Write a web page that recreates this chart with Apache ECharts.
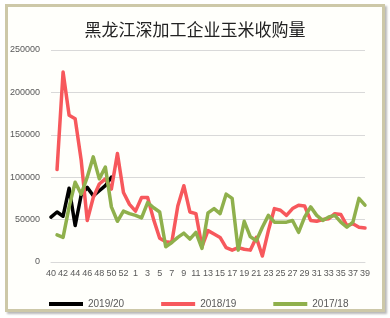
<!DOCTYPE html>
<html><head><meta charset="utf-8">
<script src="https://cdn.jsdelivr.net/npm/echarts@6/dist/echarts.min.js"></script>
<style>
html,body{margin:0;padding:0;background:#ffffff;}
#frame{position:absolute;left:5px;top:4px;width:374px;height:302px;border:3px solid #cdc8a8;background:#fffffb;box-shadow:2px 2px 2px #b9b9b9;}
#chart{position:absolute;left:0;top:0;width:390px;height:318px;}
</style></head>
<body>
<div id="frame"></div>
<div id="chart"></div>
<script>
const weeks = ['40','41','42','43','44','45','46','47','48','49','50','51','52','53',
  '1','2','3','4','5','6','7','8','9','10','11','12','13','14','15','16','17','18','19','20',
  '21','22','23','24','25','26','27','28','29','30','31','32','33','34','35','36','37','38','39'];
const s2019 = [53000,59000,54000,87000,43000,79000,88000,78000,84000,90000,100000];
const s2018 = [null,109000,224000,173000,169000,120000,49000,76000,92000,98000,86000,128000,82000,68000,
  60000,76000,76000,50000,28000,24000,23000,66000,90000,59000,57000,18000,37000,33000,29000,17000,
  14000,17000,15000,14000,29000,7000,37000,63000,61000,55000,63000,67000,66000,49000,48000,50000,
  51000,57000,56000,43000,45000,41000,40000];
const s2017 = [null,32000,29000,65000,94000,80000,100000,124000,98000,112000,65000,48000,60000,57000,
  55000,52000,70000,64000,59000,18000,23000,29000,34000,27000,35000,16000,58000,63000,57000,80000,
  75000,14000,48000,30000,25000,41000,55000,47000,47000,47000,49000,35000,53000,65000,55000,49000,
  53000,55000,47000,41000,47000,75000,67000];
const names = ['2019/20','2018/19','2017/18'];
const colors = ['#000000','#f7585c','#8fb04c'];

const chart = echarts.init(document.getElementById('chart'), null, {renderer:'canvas'});
const lbl = {color:'#595959', fontSize:9, fontFamily:'Liberation Sans, Arial, sans-serif'};
const mk = (name, data, color) => ({
  name, type:'line', data, symbol:'none', smooth:false, connectNulls:false,
  lineStyle:{color, width:3.5, cap:'round', join:'round'}, itemStyle:{color}
});
chart.setOption({
  animation:false,
  backgroundColor:'transparent',
  title:{text:'黑龙江深加工企业玉米收购量', left:'center', top:16,
    textStyle:{fontSize:17, fontWeight:'normal', color:'#222222', fontFamily:'Noto Sans CJK SC, sans-serif'}},
  grid:{left:51, right:25, top:50, bottom:56},
  legend:{left:44, top:294, itemWidth:34, itemHeight:4, itemGap:37, icon:'rect',
    textStyle:{color:'#595959', fontSize:10, fontFamily:'Liberation Sans, Arial, sans-serif'},
    data:names},
  xAxis:{type:'category', data:weeks, boundaryGap:false,
    axisLine:{lineStyle:{color:'#d9d9d9'}}, axisTick:{show:false},
    axisLabel:Object.assign({interval:1, margin:7}, lbl)},
  yAxis:{type:'value', min:0, max:250000, interval:50000,
    axisLine:{show:false}, axisTick:{show:false},
    axisLabel:Object.assign({margin:11, formatter:function(v){return String(v);}}, lbl),
    splitLine:{lineStyle:{color:'#d9d9d9', width:1}}},
  series:[mk(names[0], s2019, colors[0]), mk(names[1], s2018, colors[1]), mk(names[2], s2017, colors[2])]
});
</script>
</body></html>
